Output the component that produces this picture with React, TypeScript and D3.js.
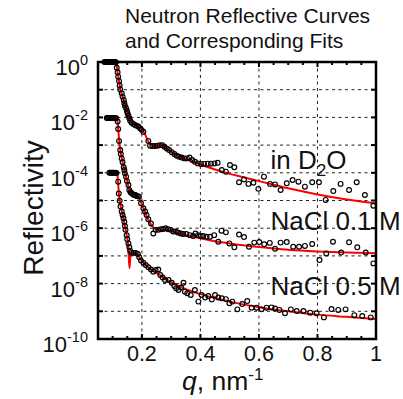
import React from 'react';
import * as d3 from 'd3';

const W = 403;
const H = 399;
const PL = 98, PR = 376, PT = 62, PB = 339;

// ---- Data (q in nm^-1, log10 reflectivity) ----
const d2oQ = [0.072,0.076,0.080,0.084,0.088,0.092,0.096,0.100,0.104,0.108,0.111,
  0.114,0.117,0.119,0.122,0.124,0.126,0.131,0.134,0.138,0.140,0.142,0.146,0.149,0.151,0.154,0.157,0.160,0.165,0.171,0.176,0.182,0.188,0.194,0.199,0.205,
  0.222,0.228,0.236,0.245,0.254,0.262,0.270,0.277,0.285,0.293,0.302,0.311,0.319,0.327,0.336,0.345,0.354,0.363,0.372,0.381,0.391,0.402,0.413,0.425,0.436,0.448,0.459,0.473,0.487,
  0.501,0.516,0.532,0.549,0.564,0.581,0.598,0.617,0.638,0.655,0.674,0.695,0.715,0.735,0.757,0.782,0.805,0.828,0.854,0.879,0.908,0.934,0.962,0.991];
const d2oLogR = [0,0,0,0,0,0,0,0,0,0,-0.01,
  -0.21,-0.37,-0.53,-0.69,-0.85,-0.99,-1.13,-1.25,-1.37,-1.49,-1.58,-1.67,-1.77,-1.85,-1.94,-2.03,-2.12,-2.19,-2.24,-2.27,-2.30,-2.33,-2.39,-2.45,-2.52,
  -2.85,-3.02,-3.03,-3.03,-3.02,-3.00,-3.00,-3.06,-3.12,-3.18,-3.26,-3.32,-3.38,-3.42,-3.45,-3.48,-3.48,-3.45,-3.54,-3.60,-3.66,-3.68,-3.68,-3.67,-3.67,-3.66,-3.64,-3.90,-3.96,
  -3.72,-3.80,-4.34,-4.24,-4.40,-4.36,-4.58,-4.14,-4.40,-4.42,-4.62,-4.38,-4.26,-4.32,-4.50,-4.34,-4.34,-4.98,-4.66,-4.40,-4.62,-4.34,-4.80,-5.19];
const d2oFitQ = [0.072,0.110,0.113,0.117,0.122,0.126,0.131,0.138,0.146,0.154,0.160,0.167,0.180,0.190,0.200,0.210,0.220,0.228,0.240,0.255,0.268,0.280,0.300,0.330,0.360,0.400,0.450,0.500,0.550,0.600,0.700,0.800,0.900,1.000];
const d2oFitLogR = [0,0,-0.1,-0.38,-0.7,-0.97,-1.15,-1.4,-1.68,-1.93,-2.1,-2.2,-2.28,-2.34,-2.45,-2.6,-2.82,-2.98,-3.03,-3.02,-3.0,-3.08,-3.25,-3.42,-3.53,-3.70,-3.88,-4.04,-4.17,-4.30,-4.56,-4.78,-4.96,-5.10];

const na1Q = [0.080,0.084,0.088,0.092,0.096,0.100,0.104,0.108,0.112,
  0.117,0.119,0.122,0.126,0.128,0.131,0.134,0.138,0.140,0.142,0.146,0.149,0.154,0.157,0.161,0.165,0.170,0.174,0.178,0.182,0.186,0.190,
  0.197,0.205,0.211,0.216,0.222,0.231,0.239,0.247,0.256,0.265,0.273,0.281,0.290,0.299,0.307,0.316,0.324,0.333,0.341,0.352,0.364,0.375,0.383,0.392,0.401,0.410,0.421,0.433,0.447,0.461,0.472,0.487,0.499,
  0.516,0.532,0.549,0.566,0.584,0.601,0.618,0.637,0.655,0.674,0.695,0.717,0.737,0.757,0.782,0.807,0.830,0.853,0.881,0.908,0.936,0.965,0.991];
const na1LogR = [-2.02,-2.02,-2.02,-2.02,-2.02,-2.02,-2.02,-2.02,-2.03,
  -2.15,-2.42,-2.85,-3.18,-3.32,-3.48,-3.62,-3.80,-3.90,-4.02,-4.14,-4.30,-4.44,-4.62,-4.70,-4.74,-4.78,-4.80,-4.80,-4.84,-4.85,-4.86,
  -5.10,-5.28,-5.40,-5.52,-5.68,-5.83,-6.19,-6.06,-6.06,-6.04,-6.03,-6.00,-6.04,-6.06,-6.12,-6.12,-6.16,-6.19,-6.21,-6.21,-6.25,-6.28,-6.19,-6.25,-6.28,-6.28,-6.31,-6.31,-6.25,-6.49,-6.09,-6.15,-6.55,
  -6.69,-6.23,-6.32,-6.67,-6.52,-6.50,-6.58,-6.53,-6.74,-6.52,-6.50,-6.67,-6.67,-6.64,-6.57,-7.15,-6.91,-6.49,-6.88,-6.51,-6.69,-6.88,-7.27];
const na1FitQ = [0.080,0.112,0.116,0.119,0.122,0.126,0.131,0.138,0.146,0.152,0.157,0.162,0.170,0.180,0.190,0.200,0.210,0.220,0.230,0.240,0.250,0.265,0.280,0.300,0.350,0.400,0.450,0.500,0.600,0.700,0.800,0.900,1.000];
const na1FitLogR = [-2.02,-2.03,-2.1,-2.4,-2.8,-3.15,-3.47,-3.78,-4.15,-4.4,-4.6,-4.7,-4.76,-4.8,-4.9,-5.15,-5.4,-5.65,-5.85,-5.98,-6.05,-6.06,-6.05,-6.1,-6.25,-6.36,-6.47,-6.55,-6.68,-6.78,-6.84,-6.88,-6.90];

const na5Q = [0.089,0.093,0.097,0.101,0.105,0.109,0.113,
  0.119,0.121,0.124,0.127,0.131,0.134,0.137,0.140,0.142,0.144,0.148,0.150,0.154,0.157,0.160,0.165,0.172,0.179,0.186,0.191,0.197,0.205,0.213,0.222,0.231,0.239,0.247,0.256,0.263,0.271,0.279,0.291,0.302,0.311,0.317,0.325,0.334,0.342,0.347,0.355,0.367,0.381,0.393,0.404,0.416,0.427,0.439,0.450,0.461,0.473,0.487,0.499,
  0.509,0.526,0.543,0.560,0.575,0.592,0.609,0.626,0.643,0.655,0.670,0.689,0.709,0.729,0.752,0.775,0.797,0.822,0.848,0.871,0.896,0.926,0.953,0.982];
const na5LogR = [-4.0,-4.0,-4.0,-4.0,-4.0,-4.0,-4.01,
  -4.32,-4.75,-5.01,-5.22,-5.40,-5.52,-5.64,-5.77,-5.92,-6.06,-6.25,-6.40,-6.55,-6.69,-6.81,-6.89,-6.89,-6.89,-6.93,-7.05,-7.17,-7.25,-7.33,-7.41,-7.49,-7.57,-7.51,-7.49,-7.69,-7.78,-7.87,-7.87,-7.97,-8.09,-8.17,-8.23,-8.14,-7.97,-8.29,-8.35,-8.41,-8.23,-8.65,-8.41,-8.50,-8.45,-8.57,-8.41,-8.50,-8.53,-8.56,-8.71,
  -8.65,-8.93,-8.74,-8.63,-8.87,-8.87,-8.93,-8.87,-8.86,-8.90,-8.95,-9.07,-8.93,-8.99,-8.99,-9.05,-9.07,-9.22,-8.92,-8.95,-8.93,-9.14,-9.17,-9.22];
const na5FitQ = [0.089,0.115,0.118,0.121,0.125,0.131,0.137,0.142,0.148,0.153,0.1575,0.161,0.165,0.175,0.185,0.190,0.200,0.210,0.220,0.240,0.260,0.280,0.300,0.350,0.400,0.450,0.500,0.600,0.700,0.800,0.900,1.000];
const na5FitLogR = [-4.0,-4.02,-4.25,-4.7,-5.05,-5.38,-5.64,-5.92,-6.25,-6.6,-7.45,-7.0,-6.9,-6.9,-6.94,-7.03,-7.18,-7.3,-7.4,-7.55,-7.68,-7.82,-7.95,-8.2,-8.38,-8.52,-8.65,-8.85,-9.0,-9.12,-9.2,-9.28];

const yTickExps = [0,-1,-2,-3,-4,-5,-6,-7,-8,-9,-10];
const yLabelExps = [0,-2,-4,-6,-8,-10];
const xMajorTicks = [0.2,0.4,0.6,0.8,1];
const xMinorTicks = [0.05,0.1,0.15,0.25,0.3,0.35,0.45,0.5,0.55,0.65,0.7,0.75,0.85,0.9,0.95];
const xGrid = [0.2,0.4,0.6,0.8];
const xTickLabels = ['0.2','0.4','0.6','0.8','1'];

const FONT = 'Liberation Sans, Arial, Helvetica, sans-serif';

export default function App() {
  const x = d3.scaleLinear().domain([0.05, 1]).range([PL, PR]);
  const y = d3.scaleLog().domain([1e-10, 1]).range([PB, PT]);
  const line = d3.line<[number, number]>()
    .x(d => x(d[0]))
    .y(d => y(Math.pow(10, d[1])))
    .curve(d3.curveMonotoneX);

  const series = [
    { q: d2oQ, r: d2oLogR, fq: d2oFitQ, fr: d2oFitLogR },
    { q: na1Q, r: na1LogR, fq: na1FitQ, fr: na1FitLogR },
    { q: na5Q, r: na5LogR, fq: na5FitQ, fr: na5FitLogR },
  ];

  return (
    <svg width={W} height={H} style={{ position: 'absolute', left: 0, top: 0, background: '#fff' }} fontFamily={FONT}>
      <rect x={0} y={0} width={W} height={H} fill="#fff" />
      {/* title */}
      <text x={125} y={23} fontSize={21} fill="#111">Neutron Reflective Curves</text>
      <text x={125} y={48} fontSize={21} fill="#111">and Corresponding Fits</text>

      {/* gridlines */}
      <g stroke="#222" strokeWidth={1} strokeDasharray="3,3.5">
        {yTickExps.slice(1, -1).map(e => (
          <line key={'gy' + e} x1={PL} x2={PR} y1={y(Math.pow(10, e))} y2={y(Math.pow(10, e))} />
        ))}
        {xGrid.map(v => (
          <line key={'gx' + v} x1={x(v)} x2={x(v)} y1={PT} y2={PB} />
        ))}
      </g>

      {/* fits */}
      {series.map((s, i) => (
        <path key={'fit' + i} d={line(s.fq.map((q, j) => [q, s.fr[j]]) as [number, number][]) || ''}
          fill="none" stroke="#ff0000" strokeWidth={2} />
      ))}

      {/* data points */}
      {series.map((s, i) => (
        <g key={'pts' + i} fill="none" stroke="#000" strokeWidth={1.15}>
          {s.q.map((q, j) => (
            <circle key={j} cx={x(q)} cy={y(Math.pow(10, s.r[j]))} r={2.4} />
          ))}
        </g>
      ))}

      {/* ticks */}
      <g stroke="#000" strokeWidth={2}>
        {yTickExps.map(e => {
          const yy = y(Math.pow(10, e));
          return (
            <g key={'ty' + e}>
              <line x1={PL} x2={PL + 5} y1={yy} y2={yy} />
              <line x1={PR - 5} x2={PR} y1={yy} y2={yy} />
            </g>
          );
        })}
        {xMajorTicks.map(v => (
          <g key={'tx' + v}>
            <line x1={x(v)} x2={x(v)} y1={PB} y2={PB - 5} />
            <line x1={x(v)} x2={x(v)} y1={PT} y2={PT + 5} />
          </g>
        ))}
        {xMinorTicks.map(v => (
          <g key={'tm' + v}>
            <line x1={x(v)} x2={x(v)} y1={PB} y2={PB - 3} />
            <line x1={x(v)} x2={x(v)} y1={PT} y2={PT + 3} />
          </g>
        ))}
      </g>

      {/* frame */}
      <rect x={PL} y={PT} width={PR - PL} height={PB - PT} fill="none" stroke="#000" strokeWidth={2.5} />

      {/* y tick labels */}
      {yLabelExps.map(e => (
        <text key={'ly' + e} x={88} y={y(Math.pow(10, e)) + 13} textAnchor="end" fontSize={22} fill="#111">
          <tspan>10</tspan>
          <tspan dy={-10} fontSize={14.5}>{e === 0 ? '0' : '-' + Math.abs(e)}</tspan>
        </text>
      ))}

      {/* x tick labels */}
      {xMajorTicks.map((v, i) => (
        <text key={'lx' + v} x={x(v)} y={361} textAnchor="middle" fontSize={21.5} fill="#111">{xTickLabels[i]}</text>
      ))}

      {/* axis titles */}
      <text x={182} y={390} fontSize={26.5} fill="#111">
        <tspan fontStyle="italic">q</tspan>
        <tspan>, nm</tspan>
        <tspan dy={-10} fontSize={17}>-1</tspan>
      </text>
      <text transform="translate(43,208) rotate(-90)" textAnchor="middle" fontSize={28} fill="#111">Reflectivity</text>

      {/* annotations */}
      <text x={270.5} y={169} fontSize={26} fill="#111">
        <tspan>in D</tspan>
        <tspan dy={7} fontSize={17}>2</tspan>
        <tspan dy={-7}>O</tspan>
      </text>
      <text x={270.5} y={230} fontSize={26} fill="#111">NaCl 0.1 M</text>
      <text x={270.5} y={295} fontSize={26} fill="#111">NaCl 0.5 M</text>
    </svg>
  );
}
